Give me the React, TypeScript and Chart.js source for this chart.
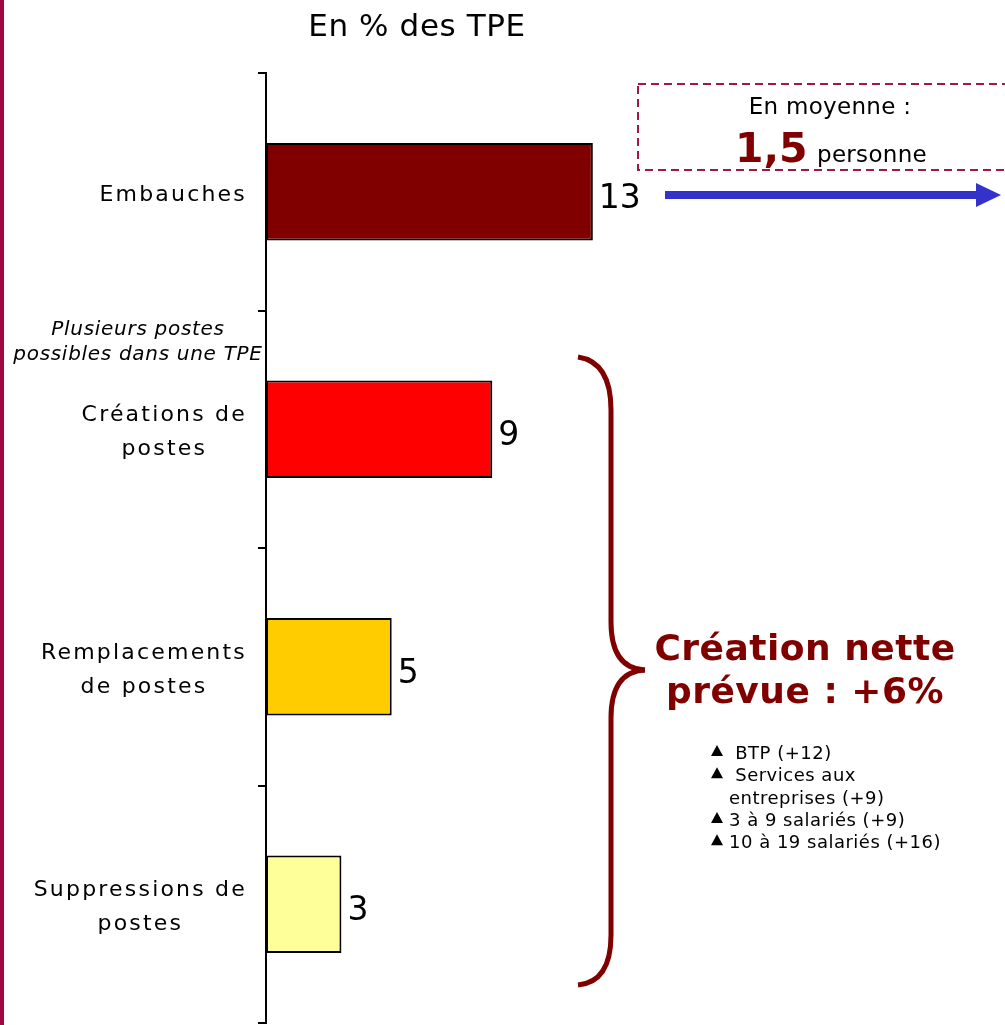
import { useEffect, useRef } from 'react';
import { Chart, registerables } from 'chart.js';

Chart.register(...registerables);

const categories: string[][] = [
  ['Embauches'],
  ['Créations de', 'postes'],
  ['Remplacements', 'de postes'],
  ['Suppressions de', 'postes'],
];
const values: number[] = [13, 9, 5, 3];
const barColors: string[] = ['#800000', '#FF0000', '#FFCC00', '#FFFF99'];
const titleText = 'En % des TPE';
const noteLines: string[] = ['Plusieurs postes', 'possibles dans une TPE'];
const averageLabel = 'En moyenne :';
const averageValue = '1,5';
const averageUnit = 'personne';
const netLines: string[] = ['Création nette', 'prévue : +6%'];
const bulletTexts: string[] = [' BTP (+12)', ' Services aux', 'entreprises (+9)', '3 à 9 salariés (+9)', '10 à 19 salariés (+16)'];
const bulletMarks: boolean[] = [true, true, false, true, true];

const FONT = '"DejaVu Sans", Verdana, sans-serif';
const MAROON = '#800000';

const overlayPlugin = {
  id: 'overlay',
  afterDraw(chart: any) {
    const ctx: CanvasRenderingContext2D = chart.ctx;
    const yScale = chart.scales.y;
    const xScale = chart.scales.x;
    ctx.save();

    // left stripe
    ctx.fillStyle = '#A0083F';
    ctx.fillRect(0, 0, 4, chart.height);

    // title
    ctx.fillStyle = '#000';
    ctx.textBaseline = 'alphabetic';
    ctx.textAlign = 'center';
    ctx.font = `31px ${FONT}`;
    (ctx as any).letterSpacing = '0.6px';
    ctx.fillText(titleText, 417, 36);

    // category labels
    ctx.font = `22px ${FONT}`;
    (ctx as any).letterSpacing = '2.2px';
    categories.forEach((lines, i) => {
      const cy = yScale.getPixelForValue(i);
      const maxW = Math.max(...lines.map((l) => ctx.measureText(l).width));
      const cx = 247 - maxW / 2;
      lines.forEach((l, k) => {
        const off = (k - (lines.length - 1) / 2) * 34;
        ctx.fillText(l, cx, cy + off + 9);
      });
    });

    // value labels
    ctx.textAlign = 'left';
    ctx.font = `33px ${FONT}`;
    (ctx as any).letterSpacing = '0px';
    values.forEach((v, i) => {
      const cy = yScale.getPixelForValue(i);
      const x = xScale.getPixelForValue(v);
      ctx.fillText(String(v), x + 6, cy + 16);
    });

    // italic note
    ctx.textAlign = 'center';
    ctx.font = `italic 20px ${FONT}`;
    (ctx as any).letterSpacing = '0.7px';
    noteLines.forEach((l, k) => ctx.fillText(l, 138, 335 + k * 25));

    // dashed box
    ctx.strokeStyle = '#A01848';
    ctx.lineWidth = 2;
    ctx.setLineDash([8, 5]);
    ctx.strokeRect(638, 84, 400, 86);
    ctx.setLineDash([]);

    // average text
    ctx.fillStyle = '#000';
    ctx.font = `23px ${FONT}`;
    (ctx as any).letterSpacing = '0.3px';
    ctx.fillText(averageLabel, 830, 114);
    ctx.textAlign = 'left';
    ctx.fillStyle = MAROON;
    ctx.font = `bold 41px ${FONT}`;
    (ctx as any).letterSpacing = '0px';
    ctx.fillText(averageValue, 735, 162);
    ctx.fillStyle = '#000';
    ctx.font = `23px ${FONT}`;
    (ctx as any).letterSpacing = '0.3px';
    ctx.fillText(averageUnit, 817, 162);

    // blue arrow
    ctx.fillStyle = '#3333CC';
    ctx.fillRect(665, 191, 315, 8);
    ctx.beginPath();
    ctx.moveTo(976, 183);
    ctx.lineTo(1001, 195);
    ctx.lineTo(976, 207);
    ctx.closePath();
    ctx.fill();

    // brace
    ctx.strokeStyle = MAROON;
    ctx.lineWidth = 5;
    ctx.lineCap = 'butt';
    ctx.beginPath();
    ctx.moveTo(578, 357);
    ctx.quadraticCurveTo(611, 362, 611, 410);
    ctx.lineTo(611, 622);
    ctx.bezierCurveTo(611, 652, 622, 669, 645, 670);
    ctx.stroke();
    ctx.beginPath();
    ctx.moveTo(645, 670);
    ctx.bezierCurveTo(622, 671, 611, 688, 611, 718);
    ctx.lineTo(611, 935);
    ctx.quadraticCurveTo(611, 982, 578, 985);
    ctx.stroke();

    // net creation text
    ctx.fillStyle = MAROON;
    ctx.textAlign = 'center';
    ctx.font = `bold 36px ${FONT}`;
    (ctx as any).letterSpacing = '0.5px';
    netLines.forEach((l, k) => ctx.fillText(l, 805, 660 + k * 43));

    // bullets
    ctx.fillStyle = '#000';
    ctx.textAlign = 'left';
    ctx.font = `18px ${FONT}`;
    (ctx as any).letterSpacing = '0.5px';
    bulletTexts.forEach((t, k) => {
      const by = 759 + k * 22.3;
      if (bulletMarks[k]) {
        ctx.beginPath();
        ctx.moveTo(711, by - 3);
        ctx.lineTo(723, by - 3);
        ctx.lineTo(717, by - 14);
        ctx.closePath();
        ctx.fill();
      }
      ctx.fillText(t, 729, by);
    });

    ctx.restore();
  },
};

export default function App() {
  const ref = useRef<HTMLCanvasElement | null>(null);
  useEffect(() => {
    if (!ref.current) return;
    const chart = new Chart(ref.current, {
      type: 'bar',
      data: {
        labels: categories.map((c) => c.join(' ')),
        datasets: [
          {
            data: values,
            backgroundColor: barColors,
            borderColor: '#000',
            borderWidth: 2,
            borderSkipped: false,
            barPercentage: 0.41,
            categoryPercentage: 1,
          },
        ],
      },
      options: {
        indexAxis: 'y',
        responsive: false,
        animation: false,
        devicePixelRatio: 1,
        layout: { padding: { top: 73, bottom: 2, right: 35, left: 0 } },
        plugins: { legend: { display: false }, tooltip: { enabled: false }, title: { display: false } },
        scales: {
          x: { display: false, min: 0, max: 28 },
          y: {
            display: true,
            ticks: { display: false },
            grid: { display: true, drawOnChartArea: false, drawTicks: true, tickLength: 8, color: '#000', lineWidth: 2, offset: true },
            border: { display: true, color: '#000', width: 2 },
            afterFit: (s: any) => {
              s.width = 266;
            },
          },
        },
      },
      plugins: [overlayPlugin],
    } as any);
    return () => chart.destroy();
  }, []);
  return (
    <div style={{ position: 'absolute', left: 0, top: 0, width: 1005, height: 1025, background: '#fff' }}>
      <canvas ref={ref} width={1005} height={1025} />
    </div>
  );
}
